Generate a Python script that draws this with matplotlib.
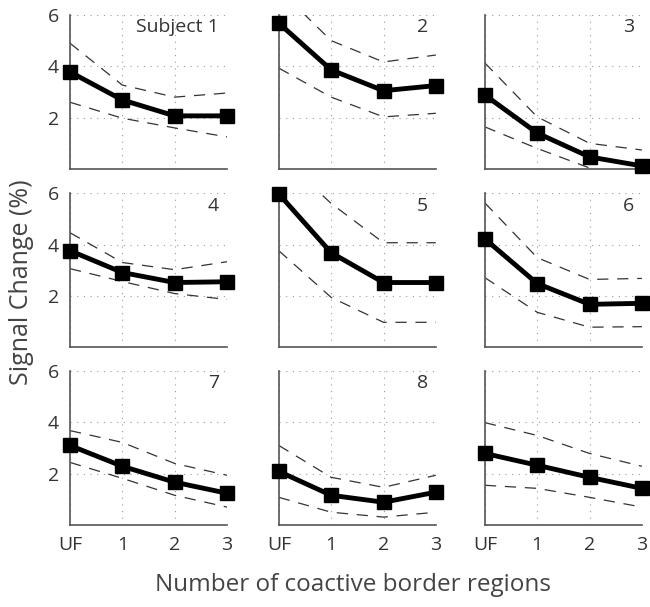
import matplotlib.pyplot as plt
import numpy as np

plt.rcParams['font.family'] = ['Open Sans', 'DejaVu Sans']

xlabels = ['UF', '1', '2', '3']
names = ['Subject 1', '2', '3', '4', '5', '6', '7', '8', '']

means = [
    [3.78, 2.69, 2.07, 2.07],
    [5.68, 3.86, 3.05, 3.25],
    [2.88, 1.40, 0.47, 0.12],
    [3.76, 2.91, 2.52, 2.55],
    [5.97, 3.68, 2.52, 2.52],
    [4.22, 2.48, 1.67, 1.71],
    [3.10, 2.29, 1.67, 1.24],
    [2.09, 1.16, 0.89, 1.28],
    [2.79, 2.33, 1.86, 1.43],
]
upper = [
    [4.90, 3.27, 2.80, 2.96],
    [7.00, 5.00, 4.17, 4.44],
    [4.13, 2.03, 1.00, 0.74],
    [4.46, 3.30, 3.02, 3.33],
    [7.50, 5.60, 4.07, 4.07],
    [5.62, 3.49, 2.64, 2.68],
    [3.68, 3.22, 2.40, 1.94],
    [3.10, 1.86, 1.47, 1.94],
    [3.99, 3.49, 2.79, 2.29],
]
lower = [
    [2.60, 1.98, 1.60, 1.25],
    [3.93, 2.80, 2.03, 2.17],
    [1.64, 0.80, 0.04, -0.50],
    [3.06, 2.56, 2.09, 1.86],
    [3.76, 1.94, 0.97, 0.97],
    [2.71, 1.36, 0.78, 0.80],
    [2.44, 1.82, 1.16, 0.70],
    [1.08, 0.50, 0.31, 0.50],
    [1.55, 1.43, 1.08, 0.70],
]

fig = plt.figure(figsize=(6.5, 6.07), dpi=100)
lefts = [0.1077, 0.429, 0.746]
bottoms = [0.7216, 0.428, 0.135]
w, h = 0.2415, 0.2537

x = np.arange(4)
for i in range(9):
    r, c = i // 3, i % 3
    ax = fig.add_axes([lefts[c], bottoms[r], w, h])
    ax.plot(x, upper[i], color='#333333', lw=0.9, dashes=(9, 7))
    ax.plot(x, lower[i], color='#333333', lw=0.9, dashes=(9, 7))
    ax.plot(x, means[i], color='black', lw=3.5, marker='s', ms=10, clip_on=False, zorder=5)
    ax.set_xlim(0, 3)
    ax.set_ylim(0, 6)
    ax.set_xticks(x)
    ax.set_yticks([2, 4, 6])
    ax.grid(True, color='#999999', lw=0.8, linestyle=(0, (1, 5)))
    for s in ['top', 'right']:
        ax.spines[s].set_visible(False)
    for s in ['left', 'bottom']:
        ax.spines[s].set_color('#555555')
        ax.spines[s].set_linewidth(1.2)
    ax.tick_params(length=0, labelsize=14, colors='#333333', pad=8)
    if c != 0:
        ax.set_yticklabels([])
    if r != 2:
        ax.set_xticklabels([])
    else:
        ax.set_xticklabels(xlabels)
    ax.text(0.95, 0.92, names[i], transform=ax.transAxes, ha='right', va='center',
            fontsize=14, color='#333333')

fig.text(0.033, 0.535, 'Signal Change (%)', rotation=90, ha='center', va='center',
         fontsize=18, color='#444444')
fig.text(0.543, 0.036, 'Number of coactive border regions', ha='center', va='center',
         fontsize=17.5, color='#444444')

fig.savefig('out.png', dpi=100)
